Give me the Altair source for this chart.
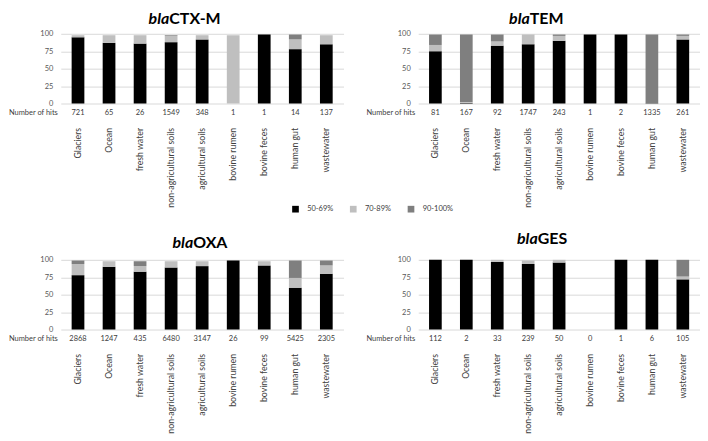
import altair as alt
import pandas as pd

categories = ["Glaciers", "Ocean", "fresh water", "non-agricultural soils",
              "agricultural soils", "bovine rumen", "bovine feces", "human gut", "wastewater"]
series = ["50-69%", "70-89%", "90-100%"]
colors = ["#000000", "#bfbfbf", "#7f7f7f"]

ctx_hits = [721, 65, 26, 1549, 348, 1, 1, 14, 137]
ctx_50 = [95, 87, 86, 88, 92, 0, 99, 78, 85]
ctx_70 = [3, 11, 12, 9, 6, 98, 0, 14, 13]
ctx_90 = [0, 0, 0, 1, 0, 0, 0, 7, 0]

tem_hits = [81, 167, 92, 1747, 243, 1, 2, 1335, 261]
tem_50 = [75, 1, 83, 85, 90, 99, 99, 0.5, 92]
tem_70 = [9, 1, 6, 14, 7, 0, 0, 0, 5]
tem_90 = [15, 97, 10, 0, 2, 0, 0, 98.5, 2]

oxa_hits = [2868, 1247, 435, 6480, 3147, 26, 99, 5425, 2305]
oxa_50 = [78, 90, 83, 89, 91, 99, 92, 60, 80]
oxa_70 = [16, 8, 8, 9, 7, 0, 6, 14, 12]
oxa_90 = [5, 0, 7, 0, 0, 0, 0, 25, 7]

ges_hits = [112, 2, 33, 239, 50, 0, 1, 6, 105]
ges_50 = [100, 100, 97, 94, 96, 0, 100, 100, 72]
ges_70 = [0, 0, 3, 5, 4, 0, 0, 0, 4]
ges_90 = [0, 0, 0, 0, 0, 0, 0, 0, 24]

H = 70
FONT = "Lato"


def panel(gene, hits, v50, v70, v90, width, split_x, title_y):
    rows = []
    for i, c in enumerate(categories):
        for o, (s, vals) in enumerate(zip(series, (v50, v70, v90))):
            rows.append({"cat": c, "series": s, "value": vals[i], "ord": o})
    df = pd.DataFrame(rows)
    hits_df = pd.DataFrame({"cat": categories, "hits": [str(h) for h in hits]})

    x = alt.X("cat:N", sort=categories, title=None,
              scale=alt.Scale(paddingInner=0.59, paddingOuter=0.35),
              axis=alt.Axis(labelAngle=-90, labelPadding=24, domain=False, ticks=False,
                            labelFontSize=8.8, labelColor="#404040", labelFont=FONT))
    bars = alt.Chart(df).mark_bar().encode(
        x=x,
        y=alt.Y("value:Q", stack="zero",
                scale=alt.Scale(domain=[0, 100], nice=False),
                axis=alt.Axis(values=[0, 25, 50, 75, 100], title=None, domain=False,
                              ticks=False, gridColor="#d9d9d9", labelFontSize=7.5,
                              labelColor="#595959", labelFont=FONT, labelPadding=8)),
        color=alt.Color("series:N", scale=alt.Scale(domain=series, range=colors),
                        legend=alt.Legend(orient="none", legendX=232, legendY=172,
                                          direction="horizontal", title=None,
                                          symbolType="square", symbolSize=45,
                                          symbolStrokeWidth=0,
                                          labelFontSize=7.5, labelFont=FONT,
                                          labelColor="#404040",
                                          columnPadding=16, labelOffset=8, padding=0)),
        order=alt.Order("ord:Q", sort="ascending"),
    )
    hit_text = alt.Chart(hits_df).mark_text(fontSize=7.5, font=FONT, color="#404040").encode(
        x=alt.X("cat:N", sort=categories),
        y=alt.value(H + 10),
        text="hits:N",
    )
    lbl = alt.Chart(pd.DataFrame({"t": ["Number of hits"]})).mark_text(
        align="right", fontSize=7.5, font=FONT, color="#404040").encode(
        x=alt.value(-3), y=alt.value(H + 10), text="t:N")
    t1 = alt.Chart(pd.DataFrame({"t": ["bla"]})).mark_text(
        align="right", baseline="middle", fontStyle="italic", fontWeight="bold",
        fontSize=16, font=FONT, color="#000000").encode(
        x=alt.value(split_x), y=alt.value(title_y), text="t:N")
    t2 = alt.Chart(pd.DataFrame({"t": [gene]})).mark_text(
        align="left", baseline="middle", fontWeight="bold",
        fontSize=16, font=FONT, color="#000000").encode(
        x=alt.value(split_x), y=alt.value(title_y), text="t:N")
    return alt.layer(bars, hit_text, lbl, t1, t2).properties(width=width, height=H)


A = panel("CTX-M", ctx_hits, ctx_50, ctx_70, ctx_90, 284, 109, -15)
B = panel("TEM", tem_hits, tem_50, tem_70, tem_90, 283, 112, -15)
C = panel("OXA", oxa_hits, oxa_50, oxa_70, oxa_90, 284, 133, -17)
D = panel("GES", ges_hits, ges_50, ges_70, ges_90, 283, 120, -21)

chart = alt.concat(A, B, C, D, columns=2, spacing={"row": 157, "column": 75},
                   bounds="flush").properties(
    padding={"top": 2, "left": 0, "right": 0, "bottom": 0}
).configure_view(stroke=None)

chart.save("out.html", embed_options={"renderer": "svg", "actions": False})
